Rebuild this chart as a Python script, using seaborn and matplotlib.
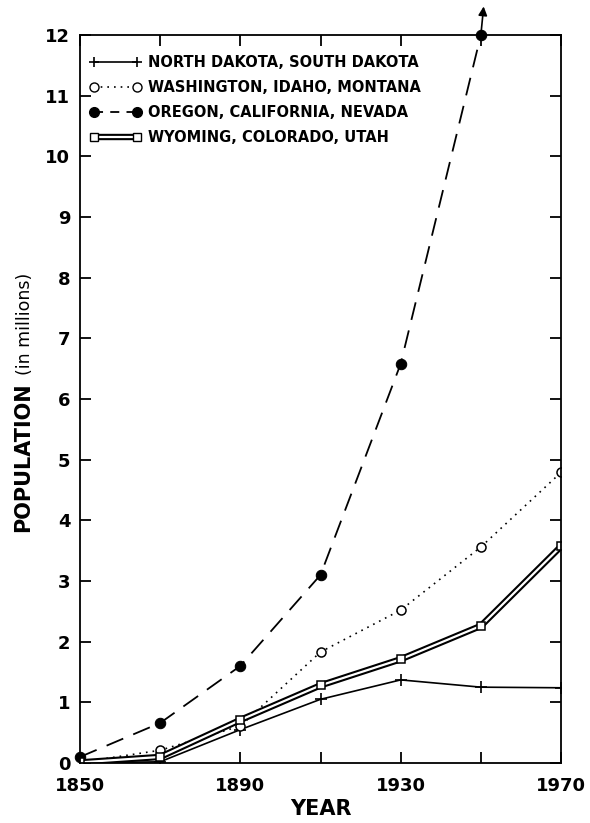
import numpy as np
import pandas as pd
import matplotlib
matplotlib.use("Agg")
import matplotlib.pyplot as plt
import matplotlib.patheffects as pe
from matplotlib.lines import Line2D
from matplotlib.legend_handler import HandlerTuple
import seaborn as sns

years = [1850, 1870, 1890, 1910, 1930, 1950, 1970]
dakotas = [0.0, 0.02, 0.55, 1.05, 1.37, 1.25, 1.24]
wash_idaho_mont = [0.01, 0.21, 0.61, 1.83, 2.52, 3.56, 4.79]
ore_cal_nev = [0.1, 0.66, 1.6, 3.1, 6.58, 12.0]
wyo_col_utah = [0.01, 0.1, 0.71, 1.28, 1.71, 2.26, 3.57]

labels = ["NORTH DAKOTA, SOUTH DAKOTA", "WASHINGTON, IDAHO, MONTANA",
          "OREGON, CALIFORNIA, NEVADA", "WYOMING, COLORADO, UTAH"]
x_ticklabels = ["1850", "", "1890", "", "1930", "", "1970"]

sns.set_style("ticks")
plt.rcParams['font.family'] = ['DejaVu Sans']
plt.rcParams['text.color'] = 'black'
plt.rcParams['axes.labelcolor'] = 'black'
plt.rcParams['xtick.color'] = 'black'
plt.rcParams['ytick.color'] = 'black'
plt.rcParams['axes.edgecolor'] = 'black'

fig = plt.figure(figsize=(5.9, 8.23), dpi=100)
ax = fig.add_axes([0.1356, 0.0729, 0.8153, 0.8846])

df1 = pd.DataFrame({"year": years, "pop": dakotas})
df2 = pd.DataFrame({"year": years, "pop": wash_idaho_mont})
df3 = pd.DataFrame({"year": years[:len(ore_cal_nev)], "pop": ore_cal_nev})
df4 = pd.DataFrame({"year": years, "pop": wyo_col_utah})

k = "black"
sns.lineplot(data=df1, x="year", y="pop", ax=ax, color=k, lw=1.2,
             marker="+", markersize=8, markeredgecolor=k, markeredgewidth=1.2)
sns.lineplot(data=df2, x="year", y="pop", ax=ax, color=k, lw=1.2,
             linestyle=(0, (1, 3)), marker="o", markersize=6.5,
             markerfacecolor="white", markeredgecolor=k, markeredgewidth=1.1)
sns.lineplot(data=df3, x="year", y="pop", ax=ax, color=k, lw=1.3,
             linestyle=(0, (10, 6)), marker="o", markersize=7.5,
             markerfacecolor=k, markeredgecolor=k, clip_on=False)
# double line: white core with black stroke
sns.lineplot(data=df4, x="year", y="pop", ax=ax, color="white", lw=1.6,
             path_effects=[pe.withStroke(linewidth=4.6, foreground=k)])
sns.lineplot(data=df4, x="year", y="pop", ax=ax, color=k, lw=0,
             marker="s", markersize=6, markerfacecolor="white",
             markeredgecolor=k, markeredgewidth=1.1)

ax.annotate("", xy=(1950.7, 12.47), xytext=(1950, 12.0),
            xycoords="data", annotation_clip=False,
            arrowprops=dict(arrowstyle="-|>", color=k, lw=1.2,
                            mutation_scale=13, shrinkA=0, shrinkB=0))

ax.set_xlim(1850, 1970)
ax.set_ylim(0, 12)
ax.set_xticks(years)
ax.set_xticklabels(x_ticklabels)
ax.set_yticks(range(0, 13))
ax.tick_params(direction="in", length=8, width=1.3, top=True, right=True,
               labelsize=13)
ax.tick_params(axis="y", pad=7)
ax.tick_params(axis="x", pad=10)
for t in ax.get_xticklabels() + ax.get_yticklabels():
    t.set_fontweight("bold")
for s in ax.spines.values():
    s.set_linewidth(1.3)
    s.set_visible(True)

ax.set_xlabel("YEAR", fontsize=15, fontweight="bold", labelpad=3)
ax.set_ylabel("")
ax.text(-0.118, 0.42, "POPULATION", rotation=90, transform=ax.transAxes,
        ha="center", va="center", fontsize=15, fontweight="bold")
ax.text(-0.115, 0.603, "(in millions)", rotation=90, transform=ax.transAxes,
        ha="center", va="center", fontsize=12.5)

h1 = Line2D([], [], color=k, lw=1.2, marker="+", markersize=7, markeredgewidth=1.2)
h2 = Line2D([], [], color=k, lw=1.2, linestyle=(0, (1, 3)), marker="o",
            markersize=6.5, markerfacecolor="white", markeredgecolor=k)
h3 = Line2D([], [], color=k, lw=1.3, linestyle=(0, (5, 4)), marker="o",
            markersize=7, markerfacecolor=k)
h4a = Line2D([], [], color="white", lw=1.6,
             path_effects=[pe.withStroke(linewidth=4.6, foreground=k)])
h4b = Line2D([], [], color=k, lw=0, marker="s", markersize=6,
             markerfacecolor="white", markeredgecolor=k)
ax.legend([h1, h2, h3, (h4a, h4b)], labels, loc="upper left",
          bbox_to_anchor=(-0.02, 1.0),
          frameon=False, numpoints=2, handlelength=3.5, handletextpad=0.45,
          labelspacing=0.7, borderaxespad=0.95,
          prop={"weight": "bold", "size": 10.5},
          handler_map={tuple: HandlerTuple(ndivide=1)})

fig.savefig("out.png", dpi=100)
